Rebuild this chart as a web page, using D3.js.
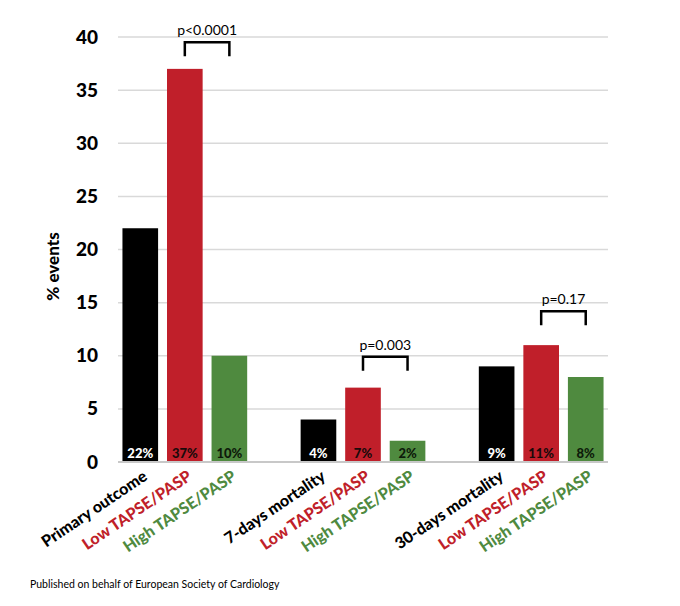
<!DOCTYPE html>
<html>
<head>
<meta charset="utf-8">
<script src="https://cdn.jsdelivr.net/npm/d3@7"></script>
<style>
  body { margin: 0; background: #fff; }
  svg { display: block; font-family: Lato, "Open Sans", sans-serif; }
</style>
</head>
<body>
<svg id="chart"></svg>
<script>
// Data.
const groups = ["Primary outcome", "7-days mortality", "30-days mortality"];
const series = ["All", "Low TAPSE/PASP", "High TAPSE/PASP"];
const overall = [22, 4, 9];
const lowTapse = [37, 7, 11];
const highTapse = [10, 2, 8];
const pLabels = ["p<0.0001", "p=0.003", "p=0.17"];
const pLevels = [39.5, 9.9, 14.2];
const yTicks = [0, 5, 10, 15, 20, 25, 30, 35, 40];

const colors = ["#000000", "#c01f2a", "#4f8a3f"];
const valueColors = ["#ffffff", "#1a0a0a", "#0d1a0a"];

const width = 680, height = 606;
const plot = { left: 118, right: 608, top: 37, bottom: 462 };

// One slot per bar plus an empty slot between groups.
const bars = [];
const slots = [];
groups.forEach((g, gi) => {
    const vals = [overall[gi], lowTapse[gi], highTapse[gi]];
    vals.forEach((v, si) => {
        const key = gi + "-" + si;
        slots.push(key);
        bars.push({ key: key, group: gi, s: si, value: v,
                    label: si === 0 ? g : series[si] });
    });
    if (gi < groups.length - 1) slots.push("gap" + gi);
});

const x = d3.scaleBand()
    .domain(slots)
    .range([plot.left, plot.right])
    .paddingInner(0.2)
    .paddingOuter(0.1);

const y = d3.scaleLinear()
    .domain([0, 40])
    .range([plot.bottom, plot.top]);

const svg = d3.select("#chart")
    .attr("width", width)
    .attr("height", height);

// Gridlines
svg.append("g")
    .selectAll("line")
    .data(yTicks.filter(d => d > 0))
    .join("line")
    .attr("x1", plot.left).attr("x2", plot.right)
    .attr("y1", d => y(d)).attr("y2", d => y(d))
    .attr("stroke", "#d9d9d9")
    .attr("stroke-width", 1.5);

// Y axis labels
const yAxis = svg.append("g")
    .attr("transform", "translate(" + (plot.left - 20) + ",0)")
    .call(d3.axisLeft(y).tickValues(yTicks).tickSize(0).tickPadding(0));
yAxis.select(".domain").remove();
yAxis.selectAll("text")
    .attr("font-family", "Lato, sans-serif")
    .attr("font-size", 19)
    .attr("font-weight", 900)
    .attr("fill", "#000");

svg.append("text")
    .attr("transform", "translate(59," + ((plot.top + plot.bottom) / 2 + 17) + ") rotate(-90)")
    .attr("text-anchor", "middle")
    .attr("font-size", 17)
    .attr("font-weight", 900)
    .text("% events");

// Bars
svg.append("g")
    .selectAll("rect")
    .data(bars)
    .join("rect")
    .attr("x", d => x(d.key))
    .attr("y", d => y(d.value))
    .attr("width", x.bandwidth())
    .attr("height", d => y(0) - y(d.value))
    .attr("fill", d => colors[d.s]);

// Baseline
svg.append("line")
    .attr("x1", plot.left).attr("x2", plot.right)
    .attr("y1", y(0)).attr("y2", y(0))
    .attr("stroke", "#c8c8c8")
    .attr("stroke-width", 2);

// Value labels inside bars
svg.append("g")
    .selectAll("text")
    .data(bars)
    .join("text")
    .attr("x", d => x(d.key) + x.bandwidth() / 2)
    .attr("y", y(0) - 4)
    .attr("text-anchor", "middle")
    .attr("font-size", 13)
    .attr("font-weight", 900)
    .attr("fill", d => valueColors[d.s])
    .text(d => d.value + "%");

// Category labels, rotated
svg.append("g")
    .selectAll("text")
    .data(bars)
    .join("text")
    .attr("transform", d => "translate(" + (x(d.key) + x.bandwidth() / 2 + 8) + "," + (y(0) + 17) + ") rotate(-34)")
    .attr("text-anchor", "end")
    .attr("font-size", 16)
    .attr("font-weight", 900)
    .attr("fill", d => colors[d.s])
    .text(d => d.label);

// Significance brackets between low and high bars
const brackets = groups.map((g, gi) => ({
    x1: x(gi + "-1") + x.bandwidth() / 2,
    x2: x(gi + "-2") + x.bandwidth() / 2,
    level: pLevels[gi],
    label: pLabels[gi]
}));

const br = svg.append("g").selectAll("g")
    .data(brackets)
    .join("g");

br.append("path")
    .attr("d", d => "M" + d.x1 + "," + (y(d.level) + 14) +
                    "V" + y(d.level) + "H" + d.x2 + "V" + (y(d.level) + 14))
    .attr("fill", "none")
    .attr("stroke", "#000")
    .attr("stroke-width", 2.5);

br.append("text")
    .attr("x", d => (d.x1 + d.x2) / 2)
    .attr("y", d => y(d.level) - 7)
    .attr("text-anchor", "middle")
    .attr("font-size", 14)
    .attr("fill", "#000")
    .text(d => d.label);

// Footer
svg.append("text")
    .attr("x", 30)
    .attr("y", 588)
    .attr("font-size", 10.5)
    .attr("fill", "#000")
    .text("Published on behalf of European Society of Cardiology");
</script>
</body>
</html>
